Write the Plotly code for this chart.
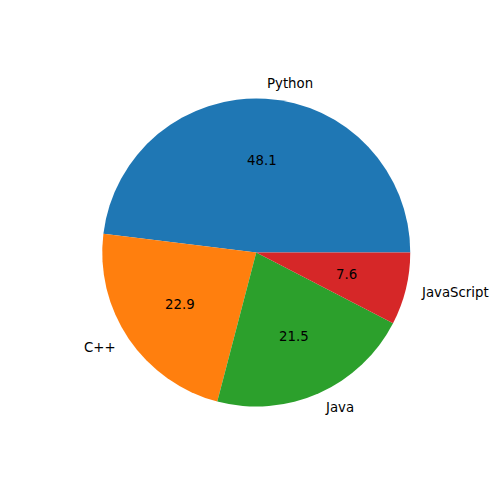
import math
import plotly.graph_objects as go

labels = ["Python", "C++", "Java", "JavaScript"]
values = [48.1, 22.9, 21.5, 7.6]
colors = ["#1f77b4", "#ff7f0e", "#2ca02c", "#d62728"]

W = H = 500
cx, cy = 256.25, 252.5   # pixel centre (from top)
r = 154.0

total = sum(values)
# plotly (counterclockwise) anchors the end of the first slice at the rotation angle;
# shift so that the first slice starts at 3 o'clock like matplotlib's default.
rotation = 90 - 360.0 * values[0] / total

fig = go.Figure(go.Pie(
    labels=labels, values=values, sort=False, direction="counterclockwise",
    rotation=rotation, textinfo="none", hoverinfo="label+value",
    marker=dict(colors=colors, line=dict(width=0)),
    domain=dict(x=[(cx - r) / W, (cx + r) / W], y=[(H - cy - r) / H, (H - cy + r) / H]),
    showlegend=False,
))

cum = 0.0
annotations = []
font = dict(family="DejaVu Sans", size=13.3, color="black")
for lab, v in zip(labels, values):
    theta = math.radians(360.0 * (cum + v / 2) / total)
    cum += v
    c, s = math.cos(theta), math.sin(theta)
    annotations.append(dict(
        x=(cx + 0.6 * r * c) / W, y=(H - cy + 0.6 * r * s) / H, xref="paper", yref="paper",
        text=f"{v:.1f}", showarrow=False, xanchor="center", yanchor="middle", font=font,
        borderpad=0, borderwidth=0))
    annotations.append(dict(
        x=(cx + 1.1 * r * c) / W, y=(H - cy + 1.1 * r * s) / H, xref="paper", yref="paper",
        text=lab, showarrow=False, xanchor="left" if c > 0 else "right", yanchor="middle", font=font,
        borderpad=0, borderwidth=0))

fig.update_layout(
    width=W, height=H, margin=dict(l=0, r=0, t=0, b=0),
    paper_bgcolor="white", plot_bgcolor="white", annotations=annotations,
)
fig.write_html("out.html")
